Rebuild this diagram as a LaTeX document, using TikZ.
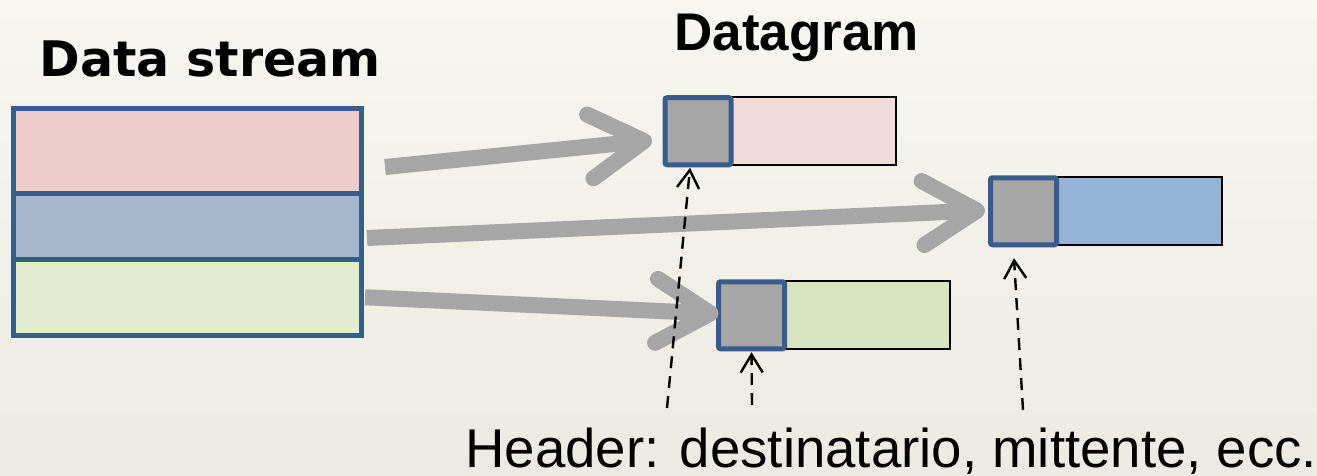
\documentclass[tikz,border=0pt]{standalone}
\usepackage{fontspec}
\setmainfont{Liberation Sans}
\newfontfamily\verdfont{DejaVu Sans}
\usepackage{tikz}
\usetikzlibrary{arrows.meta,positioning}

\definecolor{edgeblue}{HTML}{385D8A}
\definecolor{streampink}{HTML}{EDCDCC}
\definecolor{streamblue}{HTML}{A5B6CD}
\definecolor{streamgreen}{HTML}{E3EBD1}
\definecolor{dgpink}{HTML}{F2DCDB}
\definecolor{dgblue}{HTML}{95B3D7}
\definecolor{dggreen}{HTML}{D7E4BD}
\definecolor{hdrgray}{HTML}{A6A6A6}
\definecolor{bgtop}{HTML}{F7F6F1}
\definecolor{bgbottom}{HTML}{ECEAE2}

\begin{document}
\begin{tikzpicture}[
    x=0.5pt, y=-0.5pt,
    stream/.style={rectangle, draw=edgeblue, line width=2.5pt, minimum width=173.75pt, inner sep=0pt, outer sep=0pt},
    hdr/.style={rectangle, draw=edgeblue, fill=hdrgray, line width=2.5pt, rounded corners=1pt, minimum width=33pt, minimum height=33.5pt, inner sep=0pt, outer sep=0pt},
    payload/.style={rectangle, draw=black, line width=1pt, minimum width=82.5pt, minimum height=34pt, inner sep=0pt, outer sep=0pt, anchor=west},
    flow/.style={draw=hdrgray, line width=8pt, -{Straight Barb[length=27pt,width=32pt,round]}},
    ptr/.style={draw=black, line width=1.2pt, dash pattern=on 6pt off 4pt, -{Straight Barb[length=9pt,width=11pt]}},
    title/.style={anchor=base west, inner sep=0pt}
]
\useasboundingbox (0,0) rectangle (1317,476);
\shade[top color=bgtop, bottom color=bgbottom] (0,0) rectangle (1317,476);

% Data stream
\node[stream, fill=streampink, minimum height=42pt, anchor=north west] (S1) at (13.5,109) {};
\node[stream, fill=streamblue, minimum height=33pt, below=0pt of S1] (S2) {};
\node[stream, fill=streamgreen, minimum height=38.25pt, below=0pt of S2] (S3) {};

% Datagrams: payload first, header on top
\node[payload, fill=dgpink] (P1) at (731,131.25) {};
\node[hdr, left=0pt of P1] (H1) {};
\node[payload, fill=dgblue] (P2) at (1056.5,211.25) {};
\node[hdr, left=0pt of P2] (H2) {};
\node[payload, fill=dggreen] (P3) at (784.5,315.25) {};
\node[hdr, left=0pt of P3] (H3) {};

\draw[flow] ([xshift=12pt,yshift=-8pt]S1.east) -- ([xshift=-6.5pt,yshift=-4.5pt]H1.west);
\draw[flow] ([xshift=3pt,yshift=-6pt]S2.east) -- ([xshift=-2.75pt,yshift=0.5pt]H2.west);
\draw[flow] ([xshift=2pt]S3.east) -- ([yshift=0.75pt]H3.west);

% Header pointers
\coordinate (c1) at (667,408);
\coordinate (c2) at (752,405);
\coordinate (c3) at (1023,410);
\draw[ptr] (c1) -- ([xshift=-4pt,yshift=-1.5pt]H1.south);
\draw[ptr] (c2) -- ([yshift=-1.75pt]H3.south);
\draw[ptr] (c3) -- ([xshift=-4.75pt,yshift=-6.75pt]H2.south);

% Labels
\node[title, font={\verdfont\bfseries\fontsize{24.5pt}{29pt}\selectfont}] (tstream) at (39,77) {Data stream};
\node[title, font={\bfseries\fontsize{26.5pt}{32pt}\selectfont}] (tdgram) at (674,51) {Datagram};
\node[title, text depth=0pt, font={\fontsize{27.3pt}{33pt}\selectfont}] (thdr) at (465,467) {Header: destinatario, mittente, ecc.};
\end{tikzpicture}
\end{document}
